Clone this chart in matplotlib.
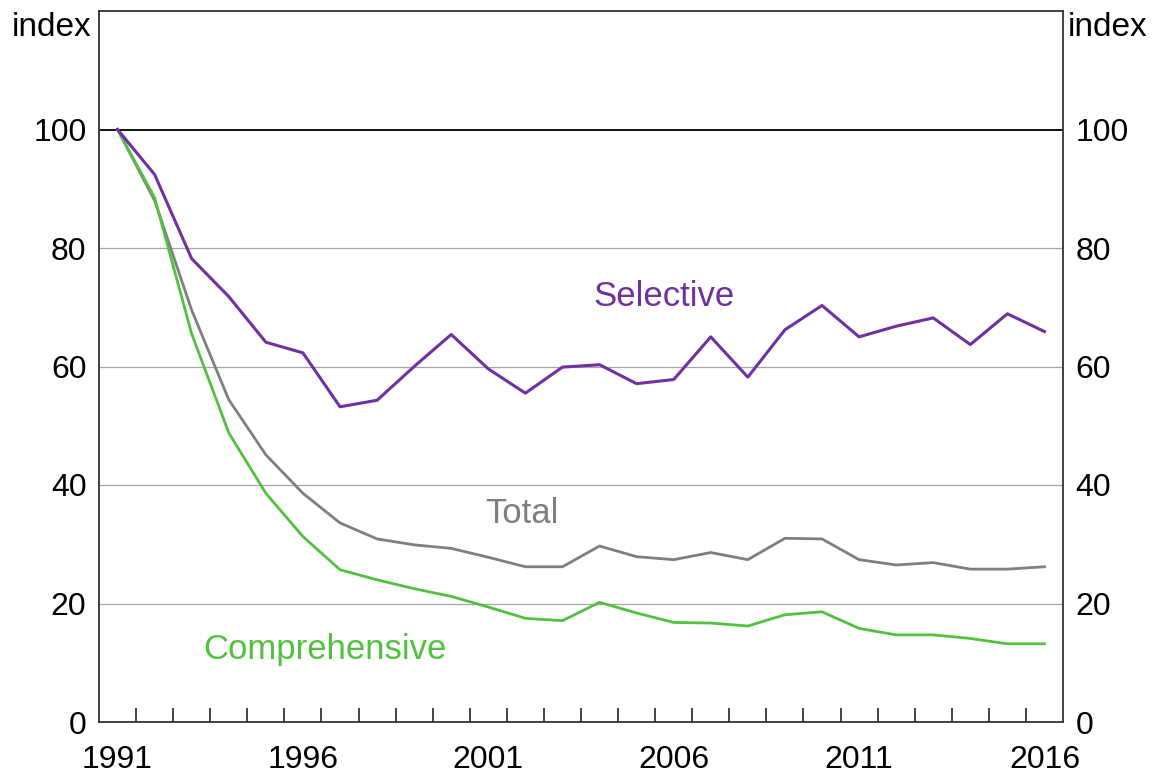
import numpy as np
import matplotlib
matplotlib.use("Agg")
import matplotlib.pyplot as plt
from matplotlib.ticker import FixedLocator, NullFormatter

plt.rcParams['font.family'] = ['Liberation Sans', 'DejaVu Sans']

# annual index, 1991 = 100
years = list(range(1991, 2017))
selective = [100, 92.4, 78.2, 71.8, 64.1, 62.3, 53.2, 54.3, 60.0, 65.4,
             59.6, 55.5, 59.9, 60.3, 57.1, 57.8, 65.0, 58.2, 66.2, 70.3,
             65.0, 66.8, 68.2, 63.7, 68.9, 65.9]
total = [100, 88.0, 69.5, 54.4, 45.1, 38.6, 33.6, 30.9, 29.9, 29.3,
         27.8, 26.2, 26.2, 29.7, 27.9, 27.4, 28.6, 27.4, 31.0, 30.9,
         27.4, 26.5, 26.9, 25.8, 25.8, 26.2]
comprehensive = [100, 88.5, 65.5, 48.8, 38.6, 31.3, 25.7, 24.0, 22.5, 21.2,
                 19.4, 17.5, 17.1, 20.2, 18.4, 16.8, 16.7, 16.2, 18.1, 18.6,
                 15.8, 14.7, 14.7, 14.1, 13.2, 13.2]
year_labels = ['1991', '1996', '2001', '2006', '2011', '2016']
y_ticks = [0, 20, 40, 60, 80, 100]

c_sel = '#7030a0'
c_tot = '#7f7f7f'
c_comp = '#52c13f'

fig = plt.figure(figsize=(11.52, 7.78), dpi=100)
ax = fig.add_axes([99 / 1152, 1 - 722 / 778, 964 / 1152, 711 / 778])

ax.set_xlim(years[0] - 0.5, years[-1] + 0.5)
ax.set_ylim(0, 120)

# gridlines and the 100 reference line
for v in y_ticks[1:-1]:
    ax.axhline(v, color='#a6a6a6', lw=0.9, zorder=1)
ax.axhline(100, color='black', lw=1.3, zorder=1)

ax.plot(years, total, color=c_tot, lw=2.0, zorder=3)
ax.plot(years, comprehensive, color=c_comp, lw=2.0, zorder=3)
ax.plot(years, selective, color=c_sel, lw=2.2, zorder=4)

ax.text(2005.75, 71.8, 'Selective', color=c_sel, fontsize=25, ha='center', va='center')
ax.text(2001.9, 35.2, 'Total', color=c_tot, fontsize=25, ha='center', va='center')
ax.text(1996.6, 12.2, 'Comprehensive', color=c_comp, fontsize=25, ha='center', va='center')

# x axis: labels at year centres, ticks on year boundaries
ax.set_xticks([int(s) for s in year_labels])
ax.set_xticklabels(year_labels)
ax.xaxis.set_minor_locator(FixedLocator([y + 0.5 for y in years[:-1]]))
ax.xaxis.set_minor_formatter(NullFormatter())
ax.tick_params(axis='x', which='major', length=0, labelsize=23, pad=16.5)
ax.tick_params(axis='x', which='minor', direction='in', length=10, width=1.2, color='#222222')

# y axis labels on both sides, no tick marks
ax.set_yticks(y_ticks)
ax.tick_params(axis='y', which='both', length=0, labelsize=23, pad=9,
               left=True, right=True, labelleft=True, labelright=True)

for s in ax.spines.values():
    s.set_color('#333333')
    s.set_linewidth(1.3)

fig.text(92 / 1152, 1 - 28 / 778, 'index', fontsize=24, ha='right', va='center')
fig.text(1068 / 1152, 1 - 28 / 778, 'index', fontsize=24, ha='left', va='center')

fig.savefig('out.png', dpi=100)
